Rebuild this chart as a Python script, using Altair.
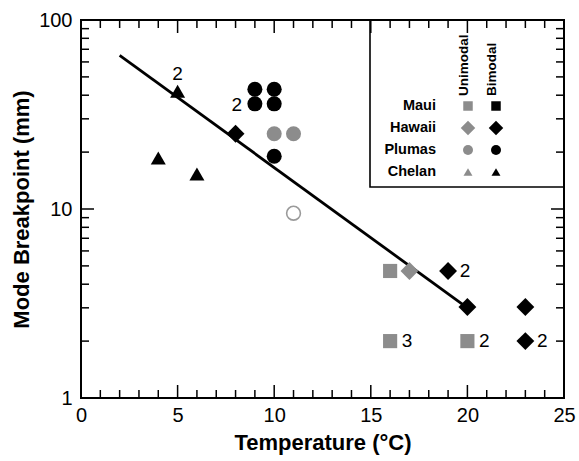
import altair as alt
import pandas as pd

# ---------------- data ----------------
pt_temp = [5, 4, 6, 8, 19, 20, 23, 23, 9, 9, 10, 10, 10, 10, 11, 17, 16, 16, 20]
pt_bp = [42, 18.6, 15.3, 25, 4.7, 3.03, 3.03, 2.0, 43, 36, 43, 36, 19, 25, 25, 4.7, 4.7, 2.0, 2.0]
pt_site = ["Chelan", "Chelan", "Chelan", "Hawaii", "Hawaii", "Hawaii", "Hawaii", "Hawaii",
           "Plumas", "Plumas", "Plumas", "Plumas", "Plumas", "Plumas", "Plumas",
           "Hawaii", "Maui", "Maui", "Maui"]
pt_mode = ["Bimodal"] * 13 + ["Unimodal"] * 6

open_temp = [11]
open_bp = [9.5]

fit_temp = [2, 20]
fit_bp = [65, 3.0]

lab_temp = [5, 9, 19, 16, 20, 23]
lab_bp = [42, 36, 4.7, 2.0, 2.0, 2.0]
lab_text = ["2", "2", "2", "3", "2", "2"]
lab_side = ["above", "left", "right", "right", "right", "right"]

x_major = [0, 5, 10, 15, 20, 25]
x_minor = [v for v in range(0, 26) if v % 5 != 0]
y_major = [1, 10, 100]
y_minor = [2, 3, 4, 5, 6, 7, 8, 9, 20, 30, 40, 50, 60, 70, 80, 90]

sites = ["Maui", "Hawaii", "Plumas", "Chelan"]
modes = ["Unimodal", "Bimodal"]
shapes = ["square", "diamond", "circle", "triangle-up"]
main_sizes = [200, 320, 225, 225]
legend_sizes = [90, 210, 100, 80]
mode_colors = ["#8c8c8c", "#000000"]

# ---------------- layout ----------------
W, H = 483, 378
FONT = "Liberation Sans"
MAJ, MIN = 13, 8

xs = alt.Scale(domain=[0, 25], nice=False, zero=False)
ys = alt.Scale(type="log", domain=[1, 100], nice=False)

x_axis = alt.Axis(values=x_major, ticks=False, domain=False, grid=False, labelFlush=False,
                  labelFontSize=20, labelPadding=7, labelColor="black", labelFont=FONT,
                  title="Temperature (°C)", titleFontSize=22, titleFont=FONT,
                  titleFontWeight="bold", titleColor="black", titleY=51,
                  titleBaseline="alphabetic")
y_axis = alt.Axis(values=y_major, ticks=False, domain=False, grid=False, labelFlush=False,
                  labelFontSize=20, labelPadding=9, labelColor="black", labelFont=FONT,
                  format="d",
                  title="Mode Breakpoint (mm)", titleFontSize=22, titleFont=FONT,
                  titleFontWeight="bold", titleColor="black", titleX=-53, titleY=H / 2,
                  titleAngle=270, titleAlign="center", titleBaseline="alphabetic")


def X(field):
    return alt.X(field, scale=xs, axis=x_axis)


def Y(field):
    return alt.Y(field, scale=ys, axis=y_axis)


pts_df = pd.DataFrame({"T": pt_temp, "BP": pt_bp, "site": pt_site, "mode": pt_mode})

# ---------------- inward tick marks on all four sides (line symbols) ----------------
ticks = []
for length, vals in ((MAJ, x_major), (MIN, x_minor)):
    df = pd.DataFrame({"T": vals})
    for ypos in (H - length / 2, length / 2):
        ticks.append(alt.Chart(df).mark_point(
            shape="stroke", angle=90, size=length * length, filled=False, opacity=1,
            color="black", strokeWidth=1.5).encode(x=X("T:Q"), y=alt.value(ypos)))
for length, vals in ((MAJ, y_major), (MIN, y_minor)):
    df = pd.DataFrame({"BP": vals})
    for xpos in (length / 2, W - length / 2):
        ticks.append(alt.Chart(df).mark_point(
            shape="stroke", size=length * length, filled=False, opacity=1,
            color="black", strokeWidth=1.5).encode(y=Y("BP:Q"), x=alt.value(xpos)))

fit_df = pd.DataFrame({"T": fit_temp, "BP": fit_bp})
fit_line = alt.Chart(fit_df).mark_line(color="black", strokeWidth=2.8).encode(
    x=X("T:Q"), y=Y("BP:Q"))

point_layers = []
for i, s in enumerate(sites):
    point_layers.append(
        alt.Chart(pts_df).transform_filter(alt.datum.site == s)
        .mark_point(filled=True, opacity=1, shape=shapes[i], size=main_sizes[i])
        .encode(
            x=X("T:Q"), y=Y("BP:Q"),
            color=alt.Color("mode:N", scale=alt.Scale(domain=modes, range=mode_colors),
                            legend=None),
        )
    )

open_df = pd.DataFrame({"T": open_temp, "BP": open_bp})
open_pt = alt.Chart(open_df).mark_point(shape="circle", filled=False, color="#9a9a9a",
                                        size=190, strokeWidth=1.6, opacity=1).encode(
    x=X("T:Q"), y=Y("BP:Q"))

lab_df = pd.DataFrame({"T": lab_temp, "BP": lab_bp, "txt": lab_text, "side": lab_side})
offsets = {"above": (0, -17), "left": (-18, 1), "right": (17, 0)}
label_layers = []
for side, (dx, dy) in offsets.items():
    label_layers.append(
        alt.Chart(lab_df).transform_filter(alt.datum.side == side)
        .mark_text(fontSize=19, font=FONT, color="black", dx=dx, dy=dy,
                   align="center", baseline="middle")
        .encode(x=X("T:Q"), y=Y("BP:Q"), text="txt:N")
    )

one = pd.DataFrame({"a": [0]})
box = alt.Chart(one).mark_rect(
    fill="white", fillOpacity=0, stroke="black", strokeWidth=1.6).encode(
    x=alt.value(289), x2=alt.value(W), y=alt.value(0), y2=alt.value(167))

# ---------------- custom legend (drawn in pixel space) ----------------
leg_col_x = [387, 415]
leg_row_y0, leg_row_step = 86, 22
legend_layers = []
for i, s in enumerate(sites):
    ry = leg_row_y0 + i * leg_row_step
    legend_layers.append(
        alt.Chart(pd.DataFrame({"t": [s]})).mark_text(
            fontSize=14.5, font=FONT, fontWeight="bold", color="black", align="right",
            baseline="middle").encode(x=alt.value(355), y=alt.value(ry), text="t:N"))
    for j, m in enumerate(modes):
        legend_layers.append(
            alt.Chart(one).mark_point(filled=True, opacity=1, shape=shapes[i],
                                      size=legend_sizes[i], color=mode_colors[j])
            .encode(x=alt.value(leg_col_x[j]), y=alt.value(ry)))
for j, m in enumerate(modes):
    legend_layers.append(
        alt.Chart(pd.DataFrame({"t": [m]})).mark_text(
            fontSize=13.5, font=FONT, fontWeight="bold", color="black", angle=270,
            align="left", baseline="alphabetic").encode(
            x=alt.value(leg_col_x[j]), y=alt.value(76), text="t:N"))

chart = (
    alt.layer(fit_line, *point_layers, open_pt, *label_layers, box, *legend_layers, *ticks)
    .properties(width=W, height=H, autosize=alt.AutoSizeParams(type="none"),
                padding={"left": 81, "top": 20, "right": 15, "bottom": 63},
                background="white")
    .configure(font=FONT)
    .configure_view(stroke="black", strokeWidth=2)
)

chart.save("out.html", embed_options={"renderer": "svg", "actions": False})
